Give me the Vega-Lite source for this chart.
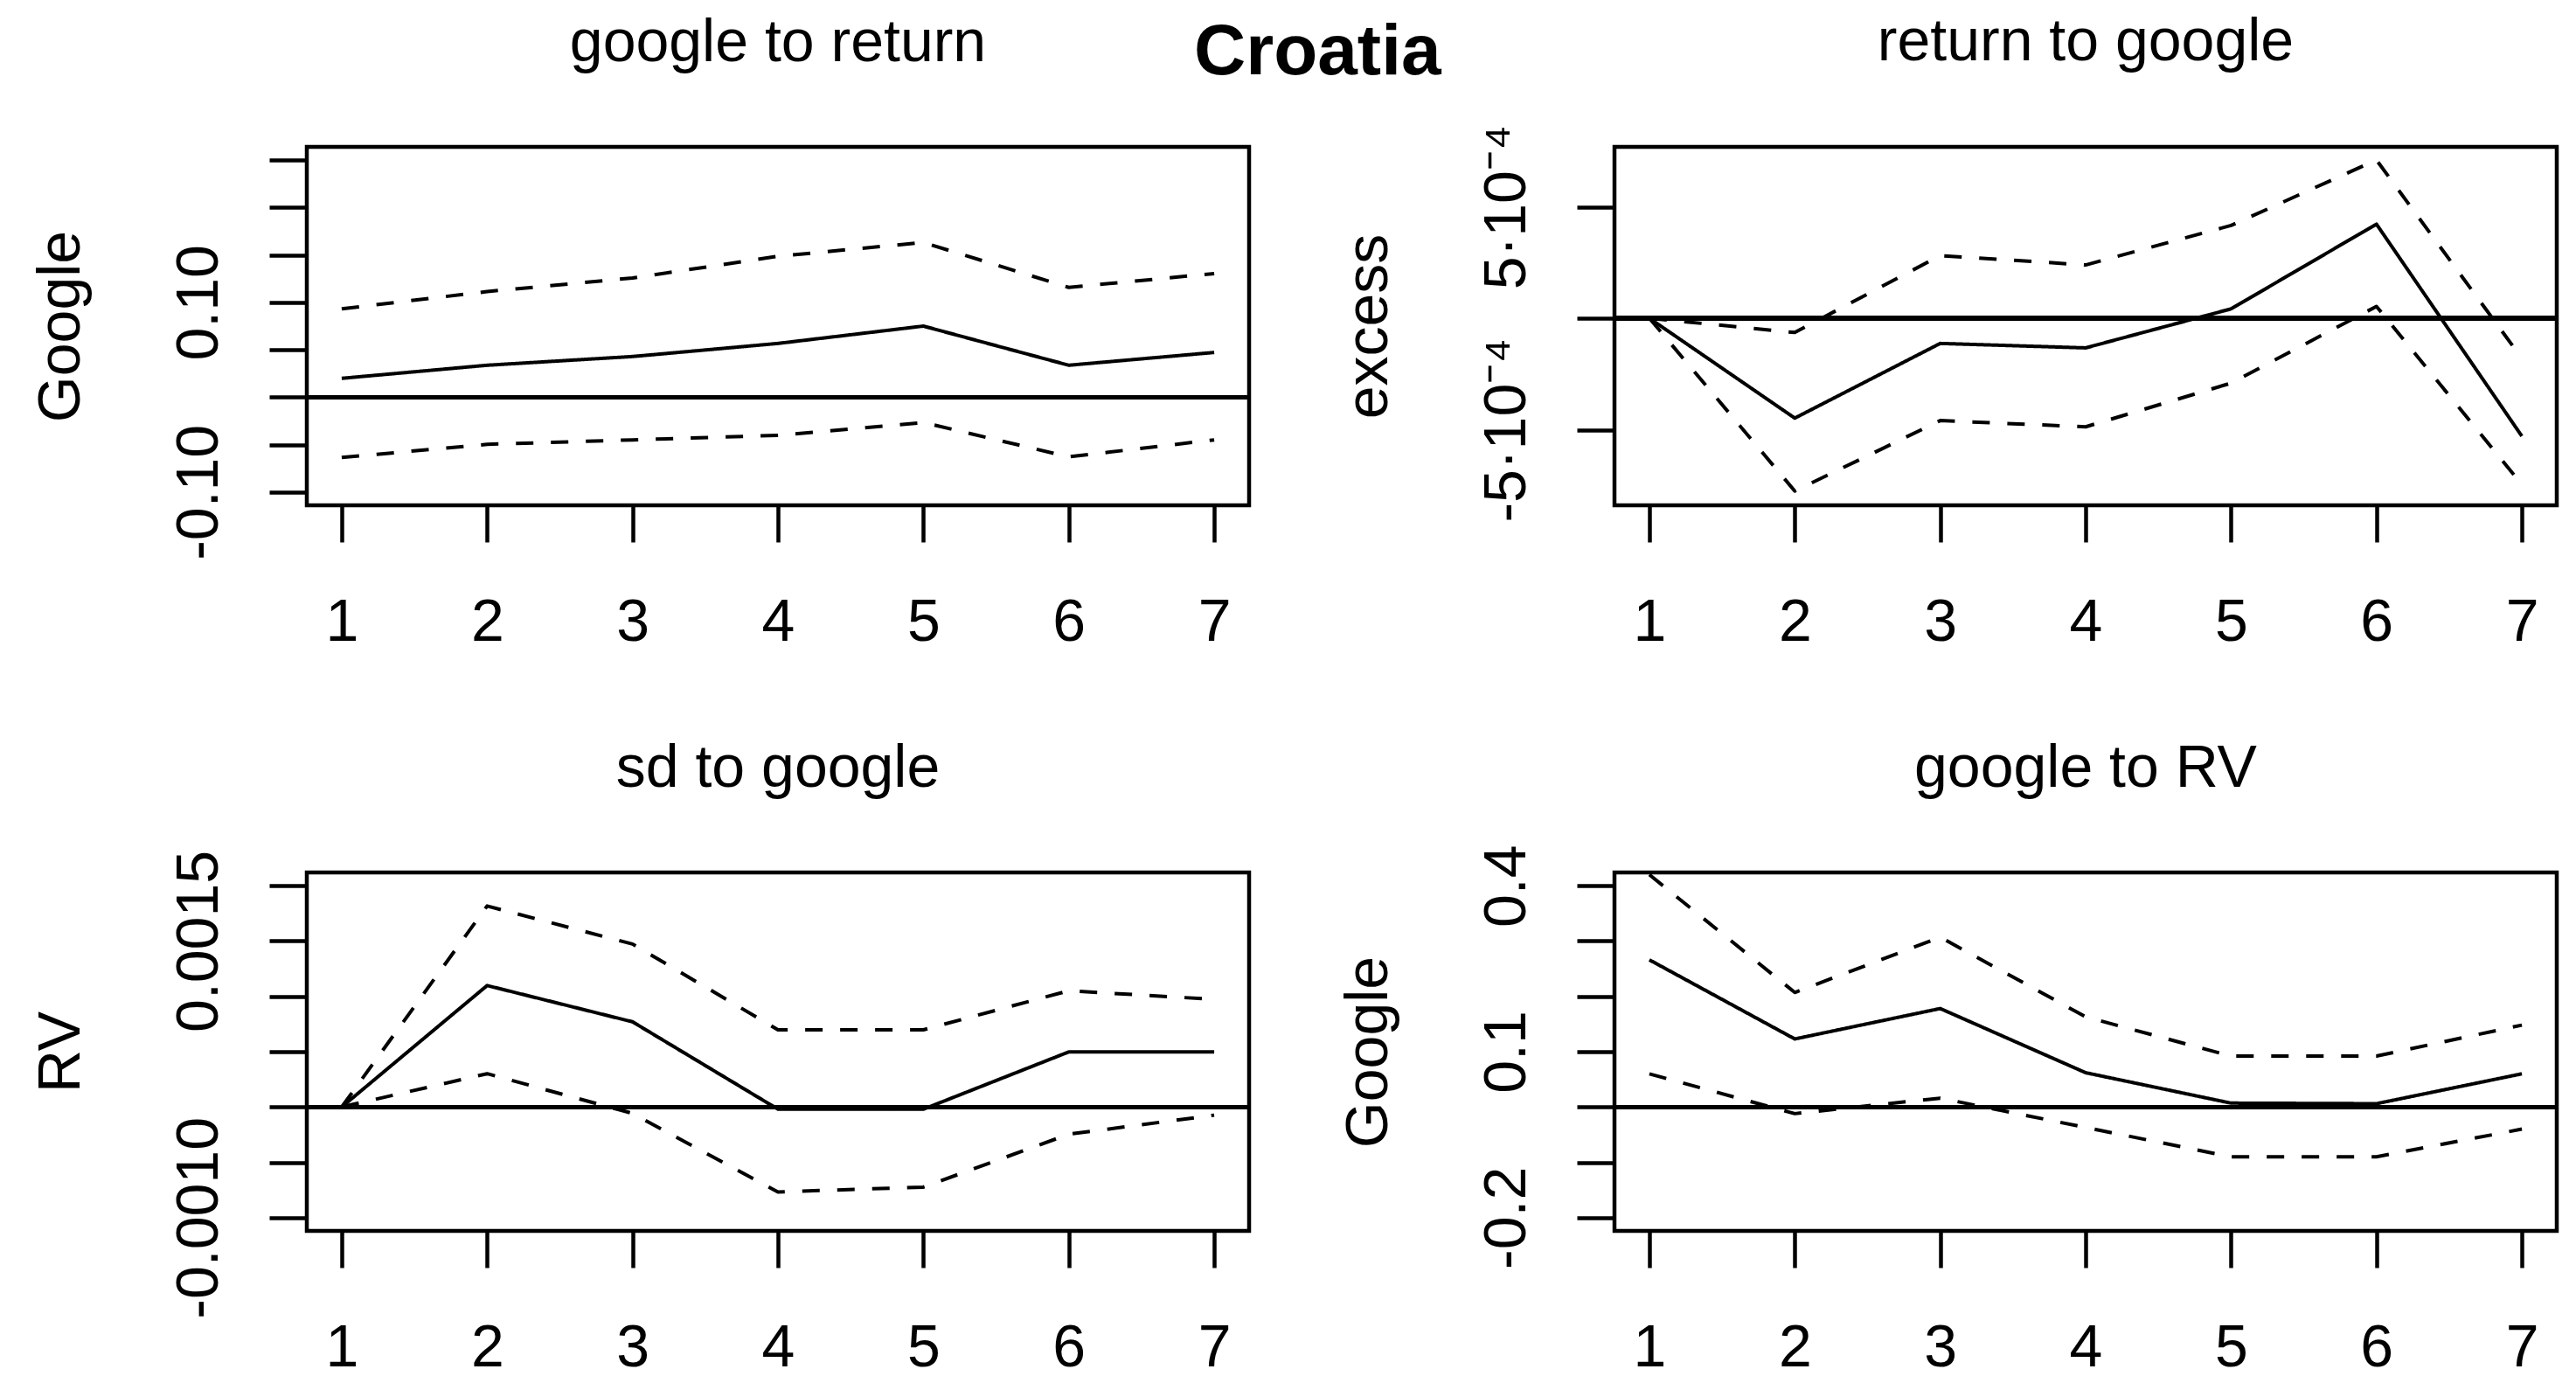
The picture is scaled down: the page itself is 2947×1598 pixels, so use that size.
{
  "$schema": "https://vega.github.io/schema/vega-lite/v6.json",
  "padding": {"left": 33, "top": 13, "right": 0, "bottom": 0},
  "background": "white",
  "title": {"text": "Croatia", "fontSize": 82, "fontWeight": "bold", "font": "Liberation Sans", "anchor": "start", "frame": "group", "dx": 1015, "dy": 154, "offset": 0, "baseline": "alphabetic", "color": "black"},
  "data": {"values": [
    {"panel": "p1", "h": 1, "series": "irf", "value": 0.0199},
    {"panel": "p1", "h": 2, "series": "irf", "value": 0.0337},
    {"panel": "p1", "h": 3, "series": "irf", "value": 0.0429},
    {"panel": "p1", "h": 4, "series": "irf", "value": 0.0567},
    {"panel": "p1", "h": 5, "series": "irf", "value": 0.0750},
    {"panel": "p1", "h": 6, "series": "irf", "value": 0.0337},
    {"panel": "p1", "h": 7, "series": "irf", "value": 0.0472},
    {"panel": "p1", "h": 1, "series": "upper", "value": 0.0932},
    {"panel": "p1", "h": 2, "series": "upper", "value": 0.1114},
    {"panel": "p1", "h": 3, "series": "upper", "value": 0.1257},
    {"panel": "p1", "h": 4, "series": "upper", "value": 0.1486},
    {"panel": "p1", "h": 5, "series": "upper", "value": 0.1632},
    {"panel": "p1", "h": 6, "series": "upper", "value": 0.1158},
    {"panel": "p1", "h": 7, "series": "upper", "value": 0.1304},
    {"panel": "p1", "h": 1, "series": "lower", "value": -0.0636},
    {"panel": "p1", "h": 2, "series": "lower", "value": -0.0497},
    {"panel": "p1", "h": 3, "series": "lower", "value": -0.0450},
    {"panel": "p1", "h": 4, "series": "lower", "value": -0.0402},
    {"panel": "p1", "h": 5, "series": "lower", "value": -0.0267},
    {"panel": "p1", "h": 6, "series": "lower", "value": -0.0629},
    {"panel": "p1", "h": 7, "series": "lower", "value": -0.0450},

    {"panel": "p2", "h": 1, "series": "irf", "value": 0},
    {"panel": "p2", "h": 2, "series": "irf", "value": -0.000448},
    {"panel": "p2", "h": 3, "series": "irf", "value": -0.000113},
    {"panel": "p2", "h": 4, "series": "irf", "value": -0.000133},
    {"panel": "p2", "h": 5, "series": "irf", "value": 0.000042},
    {"panel": "p2", "h": 6, "series": "irf", "value": 0.000422},
    {"panel": "p2", "h": 7, "series": "irf", "value": -0.000529},
    {"panel": "p2", "h": 1, "series": "upper", "value": 0},
    {"panel": "p2", "h": 2, "series": "upper", "value": -0.000064},
    {"panel": "p2", "h": 3, "series": "upper", "value": 0.000281},
    {"panel": "p2", "h": 4, "series": "upper", "value": 0.000239},
    {"panel": "p2", "h": 5, "series": "upper", "value": 0.000416},
    {"panel": "p2", "h": 6, "series": "upper", "value": 0.000710},
    {"panel": "p2", "h": 7, "series": "upper", "value": -0.000180},
    {"panel": "p2", "h": 1, "series": "lower", "value": 0},
    {"panel": "p2", "h": 2, "series": "lower", "value": -0.000775},
    {"panel": "p2", "h": 3, "series": "lower", "value": -0.000459},
    {"panel": "p2", "h": 4, "series": "lower", "value": -0.000487},
    {"panel": "p2", "h": 5, "series": "lower", "value": -0.000291},
    {"panel": "p2", "h": 6, "series": "lower", "value": 0.000053},
    {"panel": "p2", "h": 7, "series": "lower", "value": -0.000746},

    {"panel": "p3", "h": 1, "series": "irf", "value": 0},
    {"panel": "p3", "h": 2, "series": "irf", "value": 0.001098},
    {"panel": "p3", "h": 3, "series": "irf", "value": 0.00077},
    {"panel": "p3", "h": 4, "series": "irf", "value": -0.00002},
    {"panel": "p3", "h": 5, "series": "irf", "value": -0.00002},
    {"panel": "p3", "h": 6, "series": "irf", "value": 0.000498},
    {"panel": "p3", "h": 7, "series": "irf", "value": 0.000498},
    {"panel": "p3", "h": 1, "series": "upper", "value": 0},
    {"panel": "p3", "h": 2, "series": "upper", "value": 0.001817},
    {"panel": "p3", "h": 3, "series": "upper", "value": 0.001473},
    {"panel": "p3", "h": 4, "series": "upper", "value": 0.000698},
    {"panel": "p3", "h": 5, "series": "upper", "value": 0.000698},
    {"panel": "p3", "h": 6, "series": "upper", "value": 0.001051},
    {"panel": "p3", "h": 7, "series": "upper", "value": 0.000973},
    {"panel": "p3", "h": 1, "series": "lower", "value": 0},
    {"panel": "p3", "h": 2, "series": "lower", "value": 0.000301},
    {"panel": "p3", "h": 3, "series": "lower", "value": -0.000058},
    {"panel": "p3", "h": 4, "series": "lower", "value": -0.000768},
    {"panel": "p3", "h": 5, "series": "lower", "value": -0.000724},
    {"panel": "p3", "h": 6, "series": "lower", "value": -0.000246},
    {"panel": "p3", "h": 7, "series": "lower", "value": -0.000074},

    {"panel": "p4", "h": 1, "series": "irf", "value": 0.266},
    {"panel": "p4", "h": 2, "series": "irf", "value": 0.123},
    {"panel": "p4", "h": 3, "series": "irf", "value": 0.178},
    {"panel": "p4", "h": 4, "series": "irf", "value": 0.062},
    {"panel": "p4", "h": 5, "series": "irf", "value": 0.007},
    {"panel": "p4", "h": 6, "series": "irf", "value": 0.006},
    {"panel": "p4", "h": 7, "series": "irf", "value": 0.060},
    {"panel": "p4", "h": 1, "series": "upper", "value": 0.420},
    {"panel": "p4", "h": 2, "series": "upper", "value": 0.207},
    {"panel": "p4", "h": 3, "series": "upper", "value": 0.307},
    {"panel": "p4", "h": 4, "series": "upper", "value": 0.163},
    {"panel": "p4", "h": 5, "series": "upper", "value": 0.092},
    {"panel": "p4", "h": 6, "series": "upper", "value": 0.092},
    {"panel": "p4", "h": 7, "series": "upper", "value": 0.148},
    {"panel": "p4", "h": 1, "series": "lower", "value": 0.060},
    {"panel": "p4", "h": 2, "series": "lower", "value": -0.012},
    {"panel": "p4", "h": 3, "series": "lower", "value": 0.016},
    {"panel": "p4", "h": 4, "series": "lower", "value": -0.037},
    {"panel": "p4", "h": 5, "series": "lower", "value": -0.090},
    {"panel": "p4", "h": 6, "series": "lower", "value": -0.090},
    {"panel": "p4", "h": 7, "series": "lower", "value": -0.040}
  ]},
  "columns": 2,
  "spacing": {"row": 420, "column": 418},
  "bounds": "flush",
  "concat": [
    {
      "width": 1078, "height": 410,
      "title": {"text": "google to return", "offset": 30, "baseline": "alphabetic"},
      "transform": [{"filter": "datum.panel == 'p1'"}],
      "layer": [
        {"mark": {"type": "line", "color": "black", "strokeWidth": 4, "strokeJoin": "round", "strokeCap": "butt"},
         "encoding": {
           "x": {"field": "h", "type": "quantitative", "scale": {"domain": [0.76, 7.24], "nice": false, "zero": false}, "axis": {"values": [1,2,3,4,5,6,7], "title": null}},
           "y": {"field": "value", "type": "quantitative", "scale": {"domain": [-0.114, 0.264], "nice": false, "zero": false}, "axis": {"values": [-0.1,-0.05,0,0.05,0.1,0.15,0.2,0.25], "labelExpr": "datum.value == 0.1 ? '0.10' : datum.value == -0.1 ? '-0.10' : ''", "title": "Google"}},
           "detail": {"field": "series"},
           "strokeDash": {"field": "series", "type": "nominal", "scale": {"domain": ["irf","lower","upper"], "range": [[1,0],[20,20],[20,20]]}, "legend": null}
         }},
        {"mark": {"type": "rule", "color": "black", "strokeWidth": 4.5}, "encoding": {"y": {"datum": 0}}}
      ]
    },
    {
      "width": 1078, "height": 410,
      "title": {"text": "return to google", "offset": 5, "baseline": "alphabetic"},
      "transform": [{"filter": "datum.panel == 'p2'"}],
      "layer": [
        {"mark": {"type": "line", "color": "black", "strokeWidth": 4, "strokeJoin": "round", "strokeCap": "butt"},
         "encoding": {
           "x": {"field": "h", "type": "quantitative", "scale": {"domain": [0.76, 7.24], "nice": false, "zero": false}, "axis": {"values": [1,2,3,4,5,6,7], "title": null}},
           "y": {"field": "value", "type": "quantitative", "scale": {"domain": [-0.000839, 0.0007686], "nice": false, "zero": false}, "axis": {"values": [-0.0005, 0, 0.0005], "labelExpr": "datum.value > 0 ? '5·10⁻⁴' : datum.value < 0 ? '-5·10⁻⁴' : ''", "title": "excess"}},
           "detail": {"field": "series"},
           "strokeDash": {"field": "series", "type": "nominal", "scale": {"domain": ["irf","lower","upper"], "range": [[1,0],[20,20],[20,20]]}, "legend": null}
         }},
        {"mark": {"type": "rule", "color": "black", "strokeWidth": 4.5}, "encoding": {"y": {"datum": 0}}}
      ]
    },
    {
      "width": 1078, "height": 410,
      "title": {"text": "sd to google", "offset": 4, "baseline": "alphabetic"},
      "transform": [{"filter": "datum.panel == 'p3'"}],
      "layer": [
        {"mark": {"type": "line", "color": "black", "strokeWidth": 4, "strokeJoin": "round", "strokeCap": "butt"},
         "encoding": {
           "x": {"field": "h", "type": "quantitative", "scale": {"domain": [0.76, 7.24], "nice": false, "zero": false}, "axis": {"values": [1,2,3,4,5,6,7], "title": null}},
           "y": {"field": "value", "type": "quantitative", "scale": {"domain": [-0.00112, 0.00212], "nice": false, "zero": false}, "axis": {"values": [-0.001,-0.0005,0,0.0005,0.001,0.0015,0.002], "labelExpr": "datum.value == 0.0015 ? '0.0015' : datum.value == -0.001 ? '-0.0010' : ''", "title": "RV"}},
           "detail": {"field": "series"},
           "strokeDash": {"field": "series", "type": "nominal", "scale": {"domain": ["irf","lower","upper"], "range": [[1,0],[20,20],[20,20]]}, "legend": null}
         }},
        {"mark": {"type": "rule", "color": "black", "strokeWidth": 4.5}, "encoding": {"y": {"datum": 0}}}
      ]
    },
    {
      "width": 1078, "height": 410,
      "title": {"text": "google to RV", "offset": -2, "baseline": "alphabetic"},
      "transform": [{"filter": "datum.panel == 'p4'"}],
      "layer": [
        {"mark": {"type": "line", "color": "black", "strokeWidth": 4, "strokeJoin": "round", "strokeCap": "butt"},
         "encoding": {
           "x": {"field": "h", "type": "quantitative", "scale": {"domain": [0.76, 7.24], "nice": false, "zero": false}, "axis": {"values": [1,2,3,4,5,6,7], "title": null}},
           "y": {"field": "value", "type": "quantitative", "scale": {"domain": [-0.224, 0.424], "nice": false, "zero": false}, "axis": {"values": [-0.2,-0.1,0,0.1,0.2,0.3,0.4], "labelExpr": "datum.value == 0.4 ? '0.4' : datum.value == 0.1 ? '0.1' : datum.value == -0.2 ? '-0.2' : ''", "title": "Google"}},
           "detail": {"field": "series"},
           "strokeDash": {"field": "series", "type": "nominal", "scale": {"domain": ["irf","lower","upper"], "range": [[1,0],[20,20],[20,20]]}, "legend": null}
         }},
        {"mark": {"type": "rule", "color": "black", "strokeWidth": 4.5}, "encoding": {"y": {"datum": 0}}}
      ]
    }
  ],
  "config": {
    "font": "Liberation Sans",
    "view": {"stroke": "black", "strokeWidth": 4.5, "fill": null},
    "title": {"fontSize": 68, "fontWeight": "normal", "color": "black", "font": "Liberation Sans", "baseline": "alphabetic", "frame": "group", "anchor": "middle"},
    "axis": {"grid": false, "domain": false, "tickColor": "black", "tickWidth": 4.5, "labelColor": "black", "titleColor": "black", "labelFontSize": 68, "titleFontSize": 68, "titleFontWeight": "normal", "labelFont": "Liberation Sans", "titleFont": "Liberation Sans", "labelOverlap": false, "labelFlush": false, "labelLimit": 1000},
    "axisX": {"tickSize": 42, "labelPadding": 112, "labelBaseline": "alphabetic", "labelAngle": 0, "labelAlign": "center"},
    "axisY": {"tickSize": 43, "labelAngle": 270, "labelAlign": "center", "labelBaseline": "alphabetic", "labelPadding": 60, "titleAngle": 270, "titleAlign": "center", "titleBaseline": "alphabetic", "titleX": -261, "titleY": 205}
  }
}
